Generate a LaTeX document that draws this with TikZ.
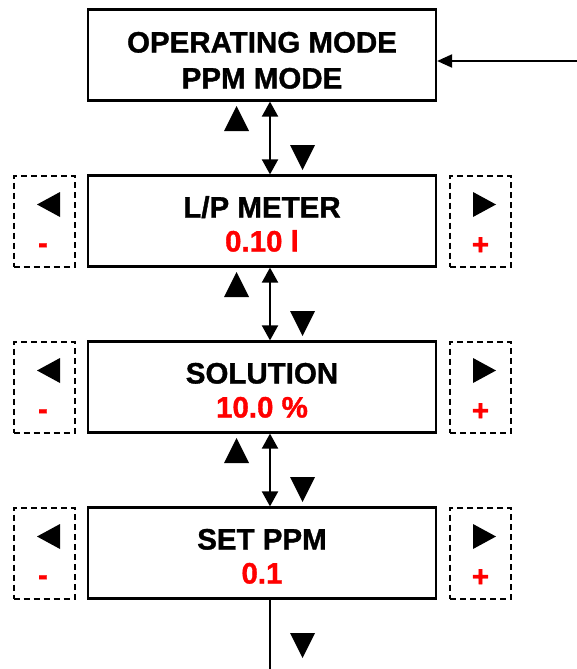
\documentclass[tikz,border=0pt]{standalone}
\usepackage{fontspec}
\setmainfont{Liberation Sans}[BoldFeatures={FakeBold=1.2}]
\usetikzlibrary{arrows.meta}
\definecolor{rd}{RGB}{255,0,0}
\tikzset{
  mainbox/.style={draw, line width=2.2pt, minimum width=348pt, minimum height=91pt, inner sep=0pt},
  sidebox/.style={draw, line width=2pt, dash pattern=on 6pt off 4pt, minimum width=61pt, minimum height=91pt, inner sep=0pt},
  lbl/.style={anchor=base, inner sep=0pt, font=\fontsize{29.5}{34}\selectfont\bfseries},
  val/.style={lbl, text=rd},
  dbl/.style={line width=2pt, {Triangle[width=16pt,length=15pt]}-{Triangle[width=16pt,length=15pt]}},
  pics/uptri/.style={code={\fill (-12.5,12.5) -- (0,-12.5) -- (12.5,12.5) -- cycle;}},
  pics/dntri/.style={code={\fill (-12.5,-12.5) -- (0,12.5) -- (12.5,-12.5) -- cycle;}},
  pics/lftri/.style={code={\fill (11.5,-12.5) -- (-11.5,0) -- (11.5,12.5) -- cycle;}},
  pics/rttri/.style={code={\fill (-11.5,-12.5) -- (11.5,0) -- (-11.5,12.5) -- cycle;}},
}
\begin{document}
\begin{tikzpicture}[x=1pt,y=-1pt]
\useasboundingbox (0,0) rectangle (577,669);
% main boxes
\node[mainbox] (b1) at (262,55) {};
\node[mainbox] (b2) at (262,221) {};
\node[mainbox] (b3) at (262,387) {};
\node[mainbox] (b4) at (262,553) {};
% texts
\node[lbl] (t1a) at (262,52.5) {OPERATING MODE};
\node[lbl] (t1b) at (262,88.5) {PPM MODE};
\node[lbl] (t2a) at (262,217.5) {L/P METER};
\node[val] (t2b) at (262,251.5) {0.10 l};
\node[lbl] (t3a) at (262,383.5) {SOLUTION};
\node[val] (t3b) at (262,417.5) {10.0 \%};
\node[lbl] (t4a) at (262,549.5) {SET PPM};
\node[val] (t4b) at (262,583.5) {0.1};
% side boxes
\foreach \y/\n in {221/2,387/3,553/4}{
  \node[sidebox] (l\n) at (44,\y) {};
  \node[sidebox] (r\n) at (480.5,\y) {};
  \pic at (48.5,\y-16.5) {lftri};
  \pic at (484.5,\y-16.5) {rttri};
  \node[val] (m\n) at (43,\y+32) {-};
  \node[val] (p\n) at (480.5,\y+33.5) {+};
}
% connectors
\coordinate (vx) at (270,0);
\coordinate (inp) at (577,61);
\draw[line width=2pt, -{Triangle[width=13pt,length=15pt]}] (inp) -- (inp -| b1.east);
\draw[dbl] (b1.south -| vx) -- (b2.north -| vx);
\draw[dbl] (b2.south -| vx) -- (b3.north -| vx);
\draw[dbl] (b3.south -| vx) -- (b4.north -| vx);
\coordinate (bot) at (270,669);
\draw[line width=2pt] (b4.south -| vx) -- (bot);
% direction triangles
\foreach \y in {100,266,432}{
  \pic at (236.5,\y+18.5) {uptri};
  \pic at (302.5,\y+57.5) {dntri};
}
\pic at (302.5,645.5) {dntri};
\end{tikzpicture}
\end{document}
